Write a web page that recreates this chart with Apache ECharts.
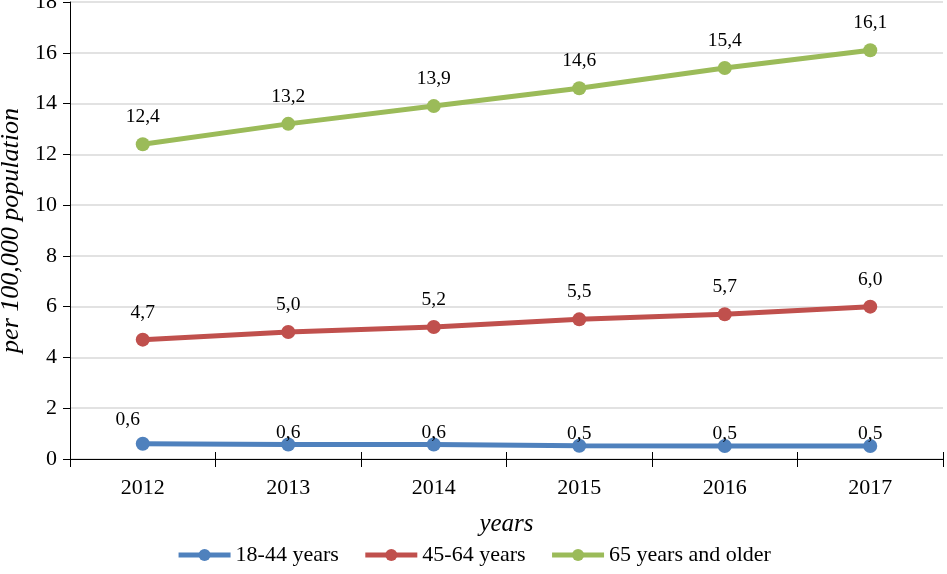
<!DOCTYPE html>
<html><head><meta charset="utf-8">
<script src="https://cdn.jsdelivr.net/npm/echarts@6/dist/echarts.min.js"></script>
<style>html,body{margin:0;padding:0;background:#fff}#c{width:947px;height:574px}</style>
</head><body><div id="c"></div>
<script>
var categories = ['2012','2013','2014','2015','2016','2017'];
var young = [0.6, 0.57, 0.57, 0.52, 0.51, 0.51];
var middle = [4.7, 5.0, 5.2, 5.5, 5.7, 6.0];
var older = [12.4, 13.2, 13.9, 14.6, 15.4, 16.1];
var seriesNames = ['18-44 years', '45-64 years', '65 years and older'];
var colors = ['#4f81bd', '#c0504d', '#9bbb59'];
var F = 'Liberation Serif';
function fmt(p){ return p.value.toFixed(1).replace('.', ','); }
function mk(name, data, color, idx){
  return {
    name: name, type: 'line', data: data.map(function(v,i){
      var o = {value: v};
      if (idx === 0) o.label = (i === 0) ? {offset: [-15, 3]} : {offset: [0, 15]};
      return o;
    }),
    symbol: 'circle', symbolSize: 14,
    lineStyle: {width: 5, color: color},
    itemStyle: {color: color},
    label: {show: true, position: 'top', distance: 10, formatter: fmt,
      fontFamily: F, fontSize: 19.5, color: '#000'},
    z: 3
  };
}
var chart = echarts.init(document.getElementById('c'));
chart.setOption({
  animation: false,
  textStyle: {fontFamily: F},
  grid: {left: 70, right: 4, top: 2, bottom: 115, outerBoundsMode: 'none', containLabel: false},
  legend: {bottom: 3, left: 'center', itemWidth: 52, itemHeight: 15, itemGap: 24,
    lineStyle: {width: 5},
    textStyle: {fontFamily: F, fontSize: 22, color: '#000'},
    data: seriesNames},
  xAxis: [{type: 'category', data: categories, boundaryGap: true,
    name: 'years', nameLocation: 'middle', nameGap: 53,
    nameTextStyle: {fontFamily: F, fontSize: 25, fontStyle: 'italic', color: '#000'},
    axisLine: {lineStyle: {color: '#000', width: 1}},
    axisTick: {show: true, length: 8, lineStyle: {color: '#000'}},
    axisLabel: {fontFamily: F, fontSize: 22, color: '#000', margin: 18}},
    {type: 'category', data: categories, position: 'bottom', boundaryGap: true,
    axisLine: {show: false}, axisLabel: {show: false},
    axisTick: {show: true, inside: true, length: 7, lineStyle: {color: '#000'}}}],
  yAxis: {type: 'value', min: 0, max: 18, interval: 2,
    name: 'per 100,000 population', nameLocation: 'middle', nameGap: 44,
    nameTextStyle: {fontFamily: F, fontSize: 26, fontStyle: 'italic', color: '#000'},
    axisLine: {show: true, lineStyle: {color: '#000', width: 1}},
    axisTick: {show: true, length: 7, lineStyle: {color: '#000'}},
    axisLabel: {fontFamily: F, fontSize: 22, color: '#000', margin: 13},
    splitLine: {lineStyle: {color: '#d9d9d9', width: 1.5}}},
  series: [mk(seriesNames[0], young, colors[0], 0), mk(seriesNames[1], middle, colors[1], 1), mk(seriesNames[2], older, colors[2], 2)]
});
</script></body></html>
